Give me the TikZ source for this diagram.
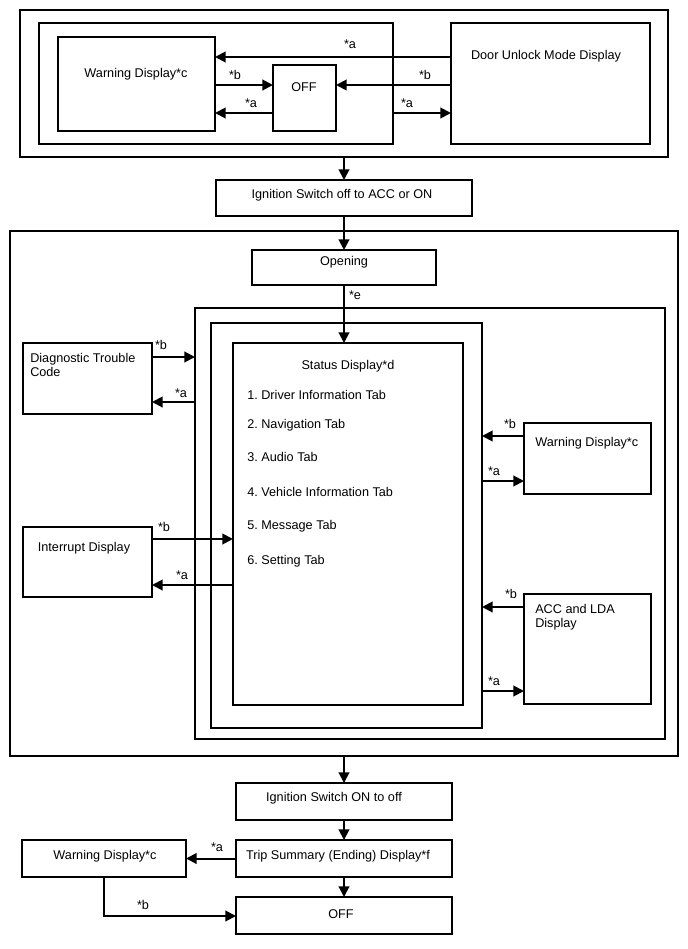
\documentclass[tikz,border=0pt]{standalone}
\usepackage{fontspec}
\setmainfont{Liberation Sans}
\usetikzlibrary{arrows.meta,calc}
\newcommand\mkbox[5]{\node[boxn,minimum width={(#4-#2)*0.75pt},minimum height={(#5-#3)*0.75pt}] (#1) at ({(#2+#4)/2},{(#3+#5)/2}) {};}
\begin{document}
\frenchspacing
\begin{tikzpicture}[x=0.75pt,y=-0.75pt,
  boxn/.style={draw,line width=1.2pt,inner sep=0pt,outer sep=0pt},
  arr/.style={line width=1.5pt,-{Triangle[length=8pt,width=8pt]}},
  lbl/.style={font=\fontsize{9.5}{10}\selectfont,inner sep=0pt},
  txt/.style={font=\fontsize{9.5}{10.5}\selectfont\frenchspacing,inner sep=0pt,align=left}]
\useasboundingbox (0,0) rectangle (688,949);
% boxes
\mkbox{topouter}{20}{10}{668}{157}
\mkbox{topin}{39}{23}{393}{144}
\mkbox{warn1}{58}{37}{215}{131}
\mkbox{off1}{273}{65}{336}{131}
\mkbox{door}{451}{23}{650}{144}
\mkbox{ign1}{216}{180}{472}{216}
\mkbox{mid}{10}{231}{678}{756}
\mkbox{open}{252}{250}{436}{285}
\mkbox{boxA}{195}{308}{665}{739}
\mkbox{boxB}{211}{323}{482}{728}
\mkbox{status}{233}{343}{463}{705}
\mkbox{dtc}{23}{343}{152}{414}
\mkbox{intr}{23}{527}{152}{597}
\mkbox{warn2}{524}{423}{651}{494}
\mkbox{acc}{524}{594}{651}{704}
\mkbox{ign2}{236}{783}{452}{820}
\mkbox{trip}{236}{840}{452}{877}
\mkbox{off2}{236}{897}{452}{934}
\mkbox{warn3}{22}{840}{186}{877}
% texts
\node[txt] (t1) at (136,74) {Warning Display*c};
\node[txt] (t2) at (304,87) {OFF};
\node[txt] (t3) at (546,56) {Door Unlock Mode Display};
\node[txt] (t4) at (342,195) {Ignition Switch off to ACC or ON};
\node[txt] (t5) at (344,262) {Opening};
\node[txt] (t6) at (348,366) {Status Display*d};
\node[txt,anchor=west] (t7) at (247,395) {1. Driver Information Tab};
\node[txt,anchor=west] (t8) at (247,425) {2. Navigation Tab};
\node[txt,anchor=west] (t9) at (247,457) {3. Audio Tab};
\node[txt,anchor=west] (t10) at (247,492) {4. Vehicle Information Tab};
\node[txt,anchor=west] (t11) at (247,526) {5. Message Tab};
\node[txt,anchor=west] (t12) at (247,561) {6. Setting Tab};
\node[txt,anchor=north west] (t13) at (30,353) {Diagnostic Trouble\\Code};
\node[txt] (t14) at (84,548) {Interrupt Display};
\node[txt,anchor=west] (t15) at (535,443) {Warning Display*c};
\node[txt,anchor=north west] (t16) at (535,604) {ACC and LDA\\Display};
\node[txt] (t17) at (334,798) {Ignition Switch ON to off};
\node[txt] (t18) at (338,856) {Trip Summary (Ending) Display*f};
\node[txt] (t19) at (341,914) {OFF};
\node[txt] (t20) at (105,856) {Warning Display*c};
% connectors top
\draw[arr] (door.west |- 0,57) -- (warn1.east |- 0,57);
\draw[arr] (door.west |- 0,85) -- (off1.east |- 0,85);
\draw[arr] (topin.east |- 0,113) -- (door.west |- 0,113);
\draw[arr] (warn1.east |- 0,85) -- (off1.west |- 0,85);
\draw[arr] (off1.west |- 0,113) -- (warn1.east |- 0,113);
\node[lbl] (l1) at (350,44) {*a};
\node[lbl] (l2) at (425,75) {*b};
\node[lbl] (l3) at (407,103) {*a};
\node[lbl] (l4) at (235,75) {*b};
\node[lbl] (l5) at (251,103) {*a};
% main flow
\draw[arr] (topouter.south) -- (ign1.north);
\draw[arr] (ign1.south) -- (open.north);
\draw[arr] (open.south) -- (open.south |- status.north);
\node[lbl] (l6) at (355,295) {*e};
\draw[arr] (mid.south) -- (ign2.north);
\draw[arr] (ign2.south) -- (trip.north);
\draw[arr] (trip.south) -- (off2.north);
\draw[arr] (trip.west) -- (warn3.east);
\draw[arr] (warn3.south -| 104,0) |- (off2.west |- 0,916);
\node[lbl] (l7) at (217,847) {*a};
\node[lbl] (l8) at (143,905) {*b};
% left side
\draw[arr] (dtc.east |- 0,357) -- (boxA.west |- 0,357);
\draw[arr] (boxA.west |- 0,402) -- (dtc.east |- 0,402);
\node[lbl] (l9) at (161,345) {*b};
\node[lbl] (l10) at (181,393) {*a};
\draw[arr] (intr.east |- 0,539) -- (status.west |- 0,539);
\draw[arr] (status.west |- 0,585) -- (intr.east |- 0,585);
\node[lbl] (l11) at (164,527) {*b};
\node[lbl] (l12) at (182,575) {*a};
% right side
\draw[arr] (warn2.west |- 0,436) -- (boxB.east |- 0,436);
\draw[arr] (boxB.east |- 0,481) -- (warn2.west |- 0,481);
\node[lbl] (l13) at (510,424) {*b};
\node[lbl] (l14) at (494,471) {*a};
\draw[arr] (acc.west |- 0,607) -- (boxB.east |- 0,607);
\draw[arr] (boxB.east |- 0,691) -- (acc.west |- 0,691);
\node[lbl] (l15) at (511,594) {*b};
\node[lbl] (l16) at (494,681) {*a};
\end{tikzpicture}
\end{document}
